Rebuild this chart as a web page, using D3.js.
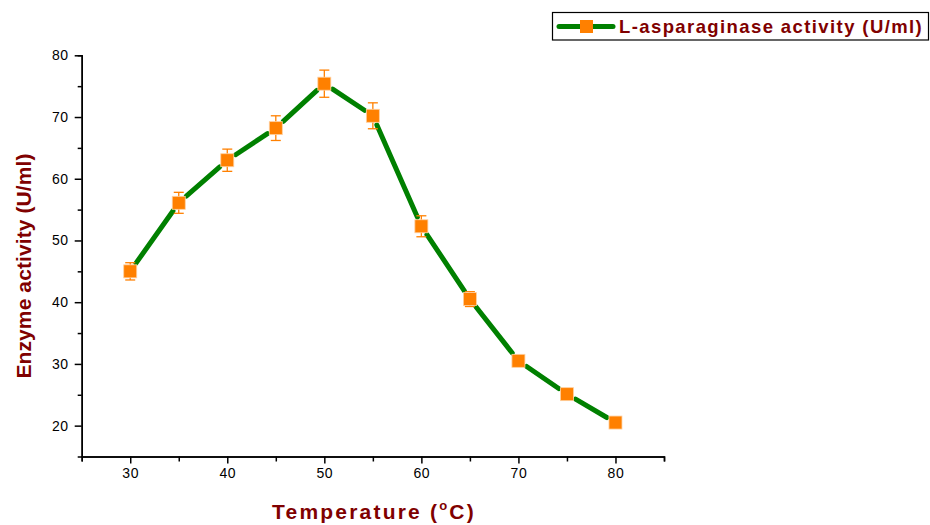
<!DOCTYPE html>
<html>
<head>
<meta charset="utf-8">
<script src="https://cdn.jsdelivr.net/npm/d3@7"></script>
<style>
  body { margin: 0; background: #fff; }
  svg { display: block; font-family: "Liberation Sans", Arial, sans-serif; }
</style>
</head>
<body>
<div id="wrap"></div>
<script>
const temps = [30, 35, 40, 45, 50, 55, 60, 65, 70, 75, 80];
const activity = [45.0, 56.1, 63.0, 68.2, 75.4, 70.2, 52.3, 40.5, 30.5, 25.1, 20.5];
const errors = [1.4, 1.7, 1.8, 2.0, 2.2, 2.1, 1.7, 1.2, 0.3, 0.2, 0.2];
const xTicks = [30, 40, 50, 60, 70, 80];
const yTicks = [20, 30, 40, 50, 60, 70, 80];
const seriesName = "L-asparaginase activity (U/ml)";

const width = 930, height = 525;
const darkRed = "#800000", green = "#008000", orange = "#ff8000";

const x = d3.scaleLinear().domain([25, 85]).range([81.7, 664]);
const y = d3.scaleLinear().domain([15, 80]).range([456.5, 55.3]);

const svg = d3.select("#wrap").append("svg")
    .attr("width", width).attr("height", height);

// axes (major with labels, minor without)
const xAxis = d3.axisBottom(x).tickValues(xTicks).tickSizeInner(7).tickSizeOuter(0).tickPadding(5);
const xMinor = d3.axisBottom(x).tickValues(d3.range(25, 86, 10)).tickSize(5).tickFormat("");
const yAxis = d3.axisLeft(y).tickValues(yTicks).tickSizeInner(7).tickSizeOuter(0).tickPadding(6);
const yMinor = d3.axisLeft(y).tickValues(d3.range(25, 80, 10)).tickSize(4).tickFormat("");

function styleAxis(g) {
    g.selectAll("path, line").attr("stroke", "#000").attr("stroke-width", 1.5);
    g.selectAll("text").attr("fill", "#000").attr("font-size", 14)
        .attr("font-family", "'Liberation Sans', Arial, sans-serif")
        .attr("letter-spacing", 0.6);
}

svg.append("g").attr("transform", `translate(0,${y(15)})`).call(xMinor).call(styleAxis);
svg.append("g").attr("transform", `translate(0,${y(15)})`).call(xAxis).call(styleAxis);
svg.append("g").attr("transform", `translate(${x(25)},0)`).call(yMinor).call(styleAxis);
svg.append("g").attr("transform", `translate(${x(25)},0)`).call(yAxis).call(styleAxis);

// axis titles
svg.append("text")
    .attr("x", 374).attr("y", 519)
    .attr("text-anchor", "middle")
    .attr("fill", darkRed).attr("font-weight", "bold").attr("font-size", 21)
    .attr("letter-spacing", 2.2)
    .html('Temperature (<tspan dy="-9" font-size="13">o</tspan><tspan dy="9">C)</tspan>');

svg.append("text")
    .attr("transform", "translate(31,266) rotate(-90)")
    .attr("text-anchor", "middle")
    .attr("fill", darkRed).attr("font-weight", "bold").attr("font-size", 21)
    .attr("letter-spacing", 0.1)
    .text("Enzyme activity (U/ml)");

const data = temps.map((t, i) => ({ t, v: activity[i], e: errors[i] }));

// line segments with gaps at markers
const gap = 10;
const segs = d3.pairs(data).map(([a, b]) => {
    const x1 = x(a.t), y1 = y(a.v), x2 = x(b.t), y2 = y(b.v);
    const len = Math.hypot(x2 - x1, y2 - y1);
    const ux = (x2 - x1) / len, uy = (y2 - y1) / len;
    return [x1 + ux * gap, y1 + uy * gap, x2 - ux * gap, y2 - uy * gap];
});
svg.append("g").selectAll("line").data(segs).join("line")
    .attr("x1", d => d[0]).attr("y1", d => d[1])
    .attr("x2", d => d[2]).attr("y2", d => d[3])
    .attr("stroke", green).attr("stroke-width", 5).attr("stroke-linecap", "round");

// error bars
const eb = svg.append("g").attr("stroke", orange).attr("stroke-width", 1.3);
eb.selectAll("line.v").data(data).join("line").attr("class", "v")
    .attr("x1", d => x(d.t)).attr("x2", d => x(d.t))
    .attr("y1", d => y(d.v + d.e)).attr("y2", d => y(d.v - d.e));
eb.selectAll("line.top").data(data.filter(d => d.e > 0.5)).join("line").attr("class", "top")
    .attr("x1", d => x(d.t) - 5).attr("x2", d => x(d.t) + 5)
    .attr("y1", d => y(d.v + d.e)).attr("y2", d => y(d.v + d.e));
eb.selectAll("line.bot").data(data.filter(d => d.e > 0.5)).join("line").attr("class", "bot")
    .attr("x1", d => x(d.t) - 5).attr("x2", d => x(d.t) + 5)
    .attr("y1", d => y(d.v - d.e)).attr("y2", d => y(d.v - d.e));

// markers
const ms = 13;
svg.append("g").selectAll("rect").data(data).join("rect")
    .attr("x", d => x(d.t) - ms / 2).attr("y", d => y(d.v) - ms / 2)
    .attr("width", ms).attr("height", ms)
    .attr("fill", orange).attr("stroke", "#ffd0a0").attr("stroke-width", 0.8);

// legend
const lg = svg.append("g");
lg.append("rect").attr("x", 552.5).attr("y", 12.5).attr("width", 376).attr("height", 27.5)
    .attr("fill", "#fff").attr("stroke", "#000").attr("stroke-width", 1.2);
lg.append("line").attr("x1", 559).attr("x2", 613).attr("y1", 26.5).attr("y2", 26.5)
    .attr("stroke", green).attr("stroke-width", 5).attr("stroke-linecap", "round");
lg.append("rect").attr("x", 580).attr("y", 20).attr("width", 13).attr("height", 13)
    .attr("fill", orange);
lg.append("text").attr("x", 619).attr("y", 33)
    .attr("fill", darkRed).attr("font-weight", "bold").attr("font-size", 18.5)
    .attr("letter-spacing", 1.4)
    .text(seriesName);
</script>
</body>
</html>
